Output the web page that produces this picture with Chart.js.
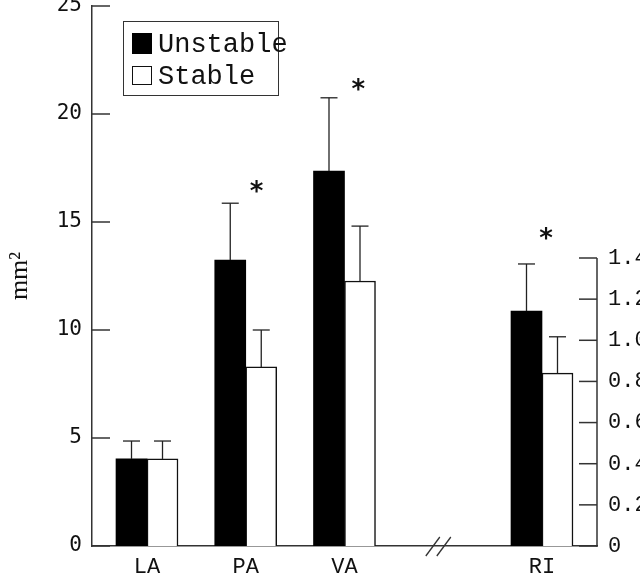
<!DOCTYPE html>
<html>
<head>
<meta charset="utf-8">
<script src="https://cdn.jsdelivr.net/npm/chart.js@4/dist/chart.umd.min.js"></script>
<style>
html,body{margin:0;padding:0;background:#fff;}
#wrap{position:relative;width:640px;height:574px;overflow:hidden;}
#chart{position:absolute;left:0;top:0;}
#legend{position:absolute;left:123px;top:21px;width:156px;height:75px;box-sizing:border-box;border:1.5px solid #333;background:#fff;}
#legend .sw{position:absolute;left:8px;width:20px;box-sizing:border-box;}
#legend .tx{position:absolute;left:34px;font-family:"Liberation Mono",monospace;font-size:27px;line-height:27px;color:#111;white-space:nowrap;}
</style>
</head>
<body>
<div id="wrap">
  <canvas id="chart" width="640" height="574"></canvas>
  <div id="legend">
    <div class="sw" style="top:10.5px;height:21px;background:#000;"></div>
    <div class="tx" style="top:10px;" id="lg0"></div>
    <div class="sw" style="top:43.5px;height:19px;background:#fff;border:1.5px solid #111;"></div>
    <div class="tx" style="top:42px;" id="lg1"></div>
  </div>
</div>
<script>
// ---- data ----
const categories = ['LA', 'PA', 'VA', '', 'RI'];
const seriesNames = ['Unstable', 'Stable'];
const unstableMeans = [4.03, 13.24, 17.36];   // mm² (left axis): LA, PA, VA
const unstableErrs  = [0.83, 2.63, 3.39];
const stableMeans   = [4.03, 8.29, 12.27];
const stableErrs    = [0.83, 1.71, 2.54];
const riMeans = [1.142, 0.84];                 // right axis: Unstable, Stable
const riErrs  = [0.229, 0.177];
const leftTicks = [0, 5, 10, 15, 20, 25];
const leftTickLabels = ['0', '5', '10', '15', '20', '25'];
const rightTicks = [0, 0.2, 0.4, 0.6, 0.8, 1.0, 1.2, 1.4];
const rightTickLabels = ['0', '0.2', '0.4', '0.6', '0.8', '1.0', '1.2', '1.4'];
const sigX = [1.11, 2.14, 4.04];
const sigY = [16.7, 21.45, 1.528];
const sigAxis = ['y', 'y', 'y2'];
const breakAt = 2.95;

document.getElementById('lg0').textContent = seriesNames[0];
document.getElementById('lg1').textContent = seriesNames[1];

const riIndex = categories.indexOf('RI');

const decor = {
  id: 'decor',
  afterDatasetsDraw(chart) {
    const ctx = chart.ctx;
    const ca = chart.chartArea;
    const sy = chart.scales.y, sy2 = chart.scales.y2, sx = chart.scales.x;
    ctx.save();
    ctx.strokeStyle = '#333';
    ctx.lineWidth = 1.5;
    leftTicks.forEach(v => {
      const y = sy.getPixelForValue(v);
      ctx.beginPath(); ctx.moveTo(ca.left, y); ctx.lineTo(ca.left + 18, y); ctx.stroke();
    });
    const yTop = sy2.getPixelForValue(rightTicks[rightTicks.length - 1]);
    const yBot = sy2.getPixelForValue(0);
    ctx.beginPath(); ctx.moveTo(ca.right, yBot + 0.75); ctx.lineTo(ca.right, yTop); ctx.stroke();
    rightTicks.forEach(v => {
      const y = sy2.getPixelForValue(v);
      ctx.beginPath(); ctx.moveTo(ca.right - 18, y); ctx.lineTo(ca.right, y); ctx.stroke();
    });
    const bx = sx.getPixelForValue(breakAt);
    const by = sy.getPixelForValue(0);
    ctx.lineWidth = 1.3;
    [-5.5, 5.5].forEach(dx => {
      ctx.beginPath(); ctx.moveTo(bx + dx - 7, by + 10); ctx.lineTo(bx + dx + 7, by - 9); ctx.stroke();
    });
    ctx.strokeStyle = '#222';
    ctx.lineWidth = 1.3;
    chart.data.datasets.forEach((ds, d) => {
      const meta = chart.getDatasetMeta(d);
      const scale = chart.scales[ds.yAxisID];
      meta.data.forEach((el, j) => {
        const v = ds.data[j].y, e = ds.errs[j];
        const y0 = scale.getPixelForValue(v);
        const y1 = scale.getPixelForValue(v + e);
        ctx.beginPath(); ctx.moveTo(el.x, y0); ctx.lineTo(el.x, y1); ctx.stroke();
        ctx.beginPath(); ctx.moveTo(el.x - 8.5, y1); ctx.lineTo(el.x + 8.5, y1); ctx.stroke();
      });
    });
    ctx.fillStyle = '#111';
    ctx.font = 'bold 26px "DejaVu Sans"';
    ctx.textAlign = 'center';
    ctx.textBaseline = 'alphabetic';
    sigX.forEach((xv, k) => {
      const x = sx.getPixelForValue(xv);
      const y = chart.scales[sigAxis[k]].getPixelForValue(sigY[k]);
      ctx.fillText('*', x, y + 15);
    });
    ctx.restore();
  }
};

const common = { barThickness: 31, borderSkipped: 'start' };
new Chart(document.getElementById('chart'), {
  type: 'bar',
  data: {
    datasets: [
      Object.assign({ label: seriesNames[0], data: unstableMeans.map((v, i) => ({ x: i, y: v })), errs: unstableErrs, yAxisID: 'y', stack: 'u',
        backgroundColor: '#000', borderColor: '#000', borderWidth: 0 }, common),
      Object.assign({ label: seriesNames[1], data: stableMeans.map((v, i) => ({ x: i, y: v })), errs: stableErrs, yAxisID: 'y', stack: 's',
        backgroundColor: '#fff', borderColor: '#111', borderWidth: 1.5 }, common),
      Object.assign({ label: seriesNames[0] + ' RI', data: [{ x: riIndex, y: riMeans[0] }], errs: [riErrs[0]], yAxisID: 'y2', stack: 'u',
        backgroundColor: '#000', borderColor: '#000', borderWidth: 0 }, common),
      Object.assign({ label: seriesNames[1] + ' RI', data: [{ x: riIndex, y: riMeans[1] }], errs: [riErrs[1]], yAxisID: 'y2', stack: 's',
        backgroundColor: '#fff', borderColor: '#111', borderWidth: 1.5 }, common)
    ]
  },
  options: {
    responsive: false,
    devicePixelRatio: 1,
    animation: false,
    events: [],
    layout: { padding: { top: 6, left: 0, right: 0, bottom: 0 } },
    plugins: { legend: { display: false }, tooltip: { enabled: false } },
    scales: {
      x: {
        type: 'linear', min: -0.557, max: 4.557, offset: false,
        grid: { display: false, drawTicks: false },
        border: { display: true, color: '#333', width: 1.5 },
        ticks: { font: { family: 'Liberation Mono', size: 22 }, color: '#111', padding: 8, autoSkip: false, maxRotation: 0,
          callback: (v) => categories[v] },
        afterBuildTicks: (s) => { s.ticks = categories.map((c, i) => ({ value: i })).filter(t => categories[t.value] !== ''); },
        afterFit: (s) => { s.height = 28; s.paddingLeft = 0; s.paddingRight = 0; }
      },
      y: {
        position: 'left', min: 0, max: 25,
        grid: { display: false, drawTicks: false },
        border: { display: true, color: '#333', width: 1.5 },
        ticks: { font: { family: 'DejaVu Sans Mono', size: 21 }, color: '#111', padding: 10,
          callback: (v, i) => leftTickLabels[i] },
        afterBuildTicks: (s) => { s.ticks = leftTicks.map(v => ({ value: v })); },
        afterFit: (s) => { s.width = 92; s.paddingTop = 0; s.paddingBottom = 0; },
        title: { display: true, text: 'mm²', font: { family: 'Liberation Serif', size: 26 }, color: '#111', padding: { top: 5, bottom: 0 } }
      },
      y2: {
        position: 'right', min: 0, max: 2.625,
        grid: { display: false, drawTicks: false },
        border: { display: false },
        ticks: { font: { family: 'Liberation Mono', size: 22 }, color: '#111', padding: 11,
          callback: (v, i) => rightTickLabels[i] },
        afterBuildTicks: (s) => { s.ticks = rightTicks.map(v => ({ value: v })); },
        afterFit: (s) => { s.width = 43; s.paddingTop = 0; s.paddingBottom = 0; }
      }
    }
  },
  plugins: [decor]
});
</script>
</body>
</html>
